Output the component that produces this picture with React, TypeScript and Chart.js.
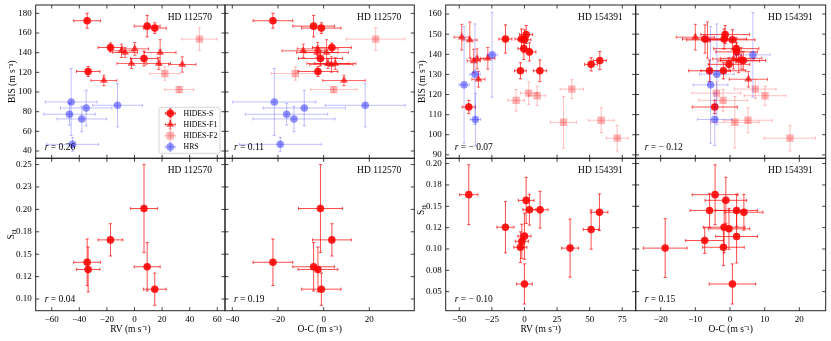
import React, { useEffect, useRef } from "react";
import { Chart, registerables } from "chart.js";

Chart.register(...registerables);

// ---------------- DATA : HD 112570 ----------------
const rv112S = [-34.3, 9.2, 14.7, -17.4, 6.9, -33.6];
const rv112SErr = [9.7, 9.4, 8.3, 8.9, 9.7, 8.5];
const oc112S = [-22.2, -4.4, -1.0, 3.6, -1.4, -2.5];
const oc112SErr = [8.7, 9.1, 8.6, 8.5, 9.6, 8.7];
const bis112S = [172.5, 167.0, 165.0, 145.3, 134.1, 120.9];
const bis112SErr = [7.6, 10.9, 5.4, 4.6, 7.5, 5.0];
const sh112S = [0.141, 0.136, 0.111, 0.166, 0.201, 0.133];
const sh112SErr = [0.026, 0.027, 0.018, 0.018, 0.049, 0.025];

const rv112F1 = [0.2, -9.4, -6.8, 18.6, -2.2, 17.6, 34.6, -22.2];
const rv112F1Err = [10.0, 8.5, 9.0, 11.5, 10.5, 8.5, 9.9, 9.4];
const oc112F1 = [-2.6, -8.9, -2.8, 1.3, 1.9, 5.1, 3.4, 8.9];
const oc112F1Err = [9.0, 9.3, 9.0, 9.5, 9.2, 9.0, 9.5, 9.3];
const bis112F1 = [143.9, 141.9, 140.2, 140.2, 129.0, 129.0, 128.0, 111.7];
const bis112F1Err = [6.5, 6.8, 5.0, 13.0, 5.0, 6.0, 7.8, 5.3];

const rv112F2 = [47.1, 22.0, 32.4];
const rv112F2Err = [12.7, 10.9, 10.5];
const oc112F2 = [22.8, -12.4, 4.4];
const oc112F2Err = [12.8, 10.5, 10.2];
const bis112F2 = [153.8, 118.8, 102.5];
const bis112F2Err = [11.4, 6.8, 3.0];

const rv112H = [-45.9, -35.0, -12.3, -47.1, -38.2, -44.9];
const rv112HErr = [18.7, 18.7, 18.0, 18.7, 18.0, 18.8];
const oc112H = [-21.6, -8.5, 18.2, -16.2, -13.0, -19.0];
const oc112HErr = [18.2, 18.0, 17.5, 18.0, 18.0, 18.0];
const bis112H = [89.9, 83.8, 86.5, 77.4, 72.6, 46.8];
const bis112HErr = [34, 18, 22, 11, 13, 7];

// ---------------- DATA : HD 154391 ----------------
const rv154S = [-14.6, -2.3, 1.3, 0.0, -0.5, 3.8, 57.8, 51.1, -3.1, 11.8, -42.7];
const rv154SErr = [5.0, 5.0, 5.0, 5.0, 4.5, 5.0, 5.0, 5.0, 4.5, 5.0, 5.0];
const oc154S = [-7.2, -1.7, -1.4, 0.7, 1.8, 1.9, 3.8, -0.3, -1.9, -5.9, -4.4];
const oc154SErr = [6.5, 6.5, 7.0, 6.5, 6.5, 6.0, 6.5, 6.0, 6.5, 6.0, 6.5];
const bis154S = [147.6, 147.6, 149.8, 147.2, 142.8, 141.2, 136.9, 135.0, 131.8, 131.8, 113.8];
const bis154SErr = [7.0, 5.0, 4.5, 5.0, 5.4, 4.5, 4.5, 3.3, 4.0, 5.4, 3.3];

const rv154F1 = [-48.1, -41.9, -38.9, -36.3, -28.1, -35.3];
const rv154F1Err = [5.8, 5.5, 5.0, 5.0, 5.5, 5.0];
const oc154F1 = [-10.0, -6.5, 2.5, 1.0, 3.2, 5.3];
const oc154F1Err = [5.5, 6.0, 6.0, 6.0, 6.0, 5.5];
const bis154F1 = [148.5, 147.1, 136.7, 137.7, 138.0, 127.6];
const bis154F1Err = [6.4, 9.0, 5.8, 5.0, 5.4, 3.9];

const rv154F2 = [-6.4, 3.3, 9.7, 36.3, 29.9, 58.8, 71.1];
const rv154F2Err = [6.4, 6.5, 6.5, 9.0, 10.0, 9.8, 8.3];
const oc154F2 = [-2.0, -3.9, 10.1, 7.3, 1.4, 5.2, 17.3];
const oc154F2Err = [7.0, 7.0, 6.0, 6.0, 7.0, 7.0, 7.4];
const bis154F2 = [117.1, 120.7, 119.4, 122.7, 106.2, 107.2, 98.3];
const bis154F2Err = [5.4, 5.6, 4.8, 4.7, 12.8, 6.2, 6.4];

const rv154H = [-24.8, -37.9, -46.3, -37.6];
const rv154HErr = [4.0, 4.0, 4.0, 4.0];
const oc154H = [6.6, -3.8, -5.6, -4.4];
const oc154HErr = [5.0, 5.0, 5.0, 5.0];
const bis154H = [139.7, 130.1, 124.8, 107.6];
const bis154HErr = [21, 25, 29, 13];

const shRv154 = [-42.7, 1.3, 3.8, 12.0, -14.6, 0.0, -2.0, -3.1, 0.0, 35.0, 51.1, 57.5];
const shRv154Err = [7.0, 6.0, 5.0, 6.0, 6.5, 5.0, 5.0, 5.0, 6.0, 6.5, 6.0, 6.5];
const shRvVal154 = [0.1636, 0.1569, 0.146, 0.146, 0.1255, 0.115, 0.109, 0.102, 0.059, 0.101, 0.1228, 0.143];
const shRvValErr154 = [0.035, 0.027, 0.018, 0.0215, 0.03, 0.027, 0.02, 0.018, 0.0235, 0.034, 0.023, 0.0215];

const shOc154 = [-4.3, -1.2, -5.9, 1.9, 4.0, -1.7, -0.3, 1.9, -7.3, -1.9, -18.7, 0.7];
const shOc154Err = [6.6, 6.0, 5.6, 6.0, 5.5, 6.0, 6.0, 6.0, 5.5, 6.0, 6.3, 6.7];
const shOcVal154 = [0.1636, 0.157, 0.1451, 0.1451, 0.143, 0.1255, 0.1236, 0.1146, 0.1099, 0.102, 0.101, 0.059];
const shOcValErr154 = [0.035, 0.027, 0.02, 0.019, 0.021, 0.03, 0.024, 0.031, 0.015, 0.0215, 0.0345, 0.0235];

// correlation coefficients printed in the panels
const r112 = [0.26, 0.11, 0.04, 0.19];
const r154 = [-0.07, -0.12, -0.1, 0.15];

// ticks
const rvTicks112 = [-60, -40, -20, 0, 20, 40, 60];
const ocTicks112 = [-40, -20, 0, 20];
const bisTicks112 = [40, 60, 80, 100, 120, 140, 160, 180];
const shTicks112 = [0.1, 0.125, 0.15, 0.175, 0.2, 0.225, 0.25];
const shLabels112 = ["0.10", "0.12", "0.15", "0.18", "0.20", "0.23", "0.25"];
const rvTicks154 = [-50, -25, 0, 25, 50, 75];
const ocTicks154 = [-20, -10, 0, 10, 20];
const bisTicks154 = [90, 100, 110, 120, 130, 140, 150, 160];
const shTicks154 = [0.05, 0.075, 0.1, 0.125, 0.15, 0.175, 0.2];
const shLabels154 = ["0.05", "0.08", "0.10", "0.12", "0.15", "0.18", "0.20"];

const instruments = ["HIDES-S", "HIDES-F1", "HIDES-F2", "HRS"];

// ---------------- STYLE ----------------
const SERIF = '"Liberation Serif", "Times New Roman", serif';
type Kind = "S" | "F1" | "F2" | "HRS";
const STYLE: Record<Kind, any> = {
  S: { shape: "circle", r: 3.8, fill: "rgba(255,0,0,0.88)", err: "rgba(255,0,0,0.7)", order: 4 },
  F1: { shape: "triangle", r: 4.6, fill: "rgba(255,0,0,0.68)", err: "rgba(255,0,0,0.6)", order: 3 },
  F2: { shape: "rect", r: 5.2, fill: "rgba(255,0,0,0.3)", err: "rgba(255,0,0,0.25)", order: 2 },
  HRS: { shape: "circle", r: 3.8, fill: "rgba(0,0,255,0.42)", err: "rgba(0,0,255,0.25)", order: 1 },
};

type Series = { kind: Kind; x: number[]; xe: number[]; y: number[]; ye: number[] };
type Axis = { min: number; max: number; ticks: number[]; labels?: string[]; title?: string; show: boolean };
type Panel = {
  area: { l: number; t: number; r: number; b: number };
  xAxis: Axis;
  yAxis: Axis;
  series: Series[];
  star: string;
  r: number;
  legend?: boolean;
  shTitleY?: number;
};

const COLS112 = [35.7, 225, 414.3];
const COLS154 = [445.7, 635.7, 825.7];
const ROWS = [5, 158.3, 310.7];
const YAXIS_W = 35.7;
const XAXIS_H = 341 - ROWS[2];

const BIS_T = "BIS (m s\u207B\u00B9)";
const rvAx112: Axis = { min: -71.6, max: 65.6, ticks: rvTicks112, title: "RV (m s\u207B\u00B9)", show: true };
const ocAx112: Axis = { min: -43.2, max: 39.7, ticks: ocTicks112, title: "O-C (m s\u207B\u00B9)", show: true };
const rvAx154: Axis = { min: -60.4, max: 85.3, ticks: rvTicks154, title: "RV (m s\u207B\u00B9)", show: true };
const ocAx154: Axis = { min: -27.2, max: 27.6, ticks: ocTicks154, title: "O-C (m s\u207B\u00B9)", show: true };
const bisAx112: Axis = { min: 32.6, max: 188.5, ticks: bisTicks112, title: BIS_T, show: true };
const bisAx154: Axis = { min: 88.3, max: 164.5, ticks: bisTicks154, title: BIS_T, show: true };
const shAx112: Axis = { min: 0.087, max: 0.257, ticks: shTicks112, labels: shLabels112, show: true };
const shAx154: Axis = { min: 0.0277, max: 0.2062, ticks: shTicks154, labels: shLabels154, show: true };
const hide = (a: Axis): Axis => ({ ...a, show: false });

const PANELS: Panel[] = [
  {
    area: { l: COLS112[0], r: COLS112[1], t: ROWS[0], b: ROWS[1] },
    xAxis: hide(rvAx112), yAxis: bisAx112, star: "HD 112570", r: r112[0], legend: true,
    series: [
      { kind: "S", x: rv112S, xe: rv112SErr, y: bis112S, ye: bis112SErr },
      { kind: "F1", x: rv112F1, xe: rv112F1Err, y: bis112F1, ye: bis112F1Err },
      { kind: "F2", x: rv112F2, xe: rv112F2Err, y: bis112F2, ye: bis112F2Err },
      { kind: "HRS", x: rv112H, xe: rv112HErr, y: bis112H, ye: bis112HErr },
    ],
  },
  {
    area: { l: COLS112[1], r: COLS112[2], t: ROWS[0], b: ROWS[1] },
    xAxis: hide(ocAx112), yAxis: hide(bisAx112), star: "HD 112570", r: r112[1],
    series: [
      { kind: "S", x: oc112S, xe: oc112SErr, y: bis112S, ye: bis112SErr },
      { kind: "F1", x: oc112F1, xe: oc112F1Err, y: bis112F1, ye: bis112F1Err },
      { kind: "F2", x: oc112F2, xe: oc112F2Err, y: bis112F2, ye: bis112F2Err },
      { kind: "HRS", x: oc112H, xe: oc112HErr, y: bis112H, ye: bis112HErr },
    ],
  },
  {
    area: { l: COLS112[0], r: COLS112[1], t: ROWS[1], b: ROWS[2] },
    xAxis: rvAx112, yAxis: shAx112, star: "HD 112570", r: r112[2], shTitleY: 234.5,
    series: [{ kind: "S", x: rv112S, xe: rv112SErr, y: sh112S, ye: sh112SErr }],
  },
  {
    area: { l: COLS112[1], r: COLS112[2], t: ROWS[1], b: ROWS[2] },
    xAxis: ocAx112, yAxis: hide(shAx112), star: "HD 112570", r: r112[3],
    series: [{ kind: "S", x: oc112S, xe: oc112SErr, y: sh112S, ye: sh112SErr }],
  },
  {
    area: { l: COLS154[0], r: COLS154[1], t: ROWS[0], b: ROWS[1] },
    xAxis: hide(rvAx154), yAxis: bisAx154, star: "HD 154391", r: r154[0],
    series: [
      { kind: "S", x: rv154S, xe: rv154SErr, y: bis154S, ye: bis154SErr },
      { kind: "F1", x: rv154F1, xe: rv154F1Err, y: bis154F1, ye: bis154F1Err },
      { kind: "F2", x: rv154F2, xe: rv154F2Err, y: bis154F2, ye: bis154F2Err },
      { kind: "HRS", x: rv154H, xe: rv154HErr, y: bis154H, ye: bis154HErr },
    ],
  },
  {
    area: { l: COLS154[1], r: COLS154[2], t: ROWS[0], b: ROWS[1] },
    xAxis: hide(ocAx154), yAxis: hide(bisAx154), star: "HD 154391", r: r154[1],
    series: [
      { kind: "S", x: oc154S, xe: oc154SErr, y: bis154S, ye: bis154SErr },
      { kind: "F1", x: oc154F1, xe: oc154F1Err, y: bis154F1, ye: bis154F1Err },
      { kind: "F2", x: oc154F2, xe: oc154F2Err, y: bis154F2, ye: bis154F2Err },
      { kind: "HRS", x: oc154H, xe: oc154HErr, y: bis154H, ye: bis154HErr },
    ],
  },
  {
    area: { l: COLS154[0], r: COLS154[1], t: ROWS[1], b: ROWS[2] },
    xAxis: rvAx154, yAxis: shAx154, star: "HD 154391", r: r154[2], shTitleY: 210,
    series: [{ kind: "S", x: shRv154, xe: shRv154Err, y: shRvVal154, ye: shRvValErr154 }],
  },
  {
    area: { l: COLS154[1], r: COLS154[2], t: ROWS[1], b: ROWS[2] },
    xAxis: ocAx154, yAxis: hide(shAx154), star: "HD 154391", r: r154[3],
    series: [{ kind: "S", x: shOc154, xe: shOc154Err, y: shOcVal154, ye: shOcValErr154 }],
  },
];

const fmtNum = (v: number) => (v < 0 ? "\u2212" + Math.abs(v) : String(v));

function drawMarker(ctx: CanvasRenderingContext2D, kind: Kind, x: number, y: number) {
  const st = STYLE[kind];
  ctx.fillStyle = st.fill;
  ctx.beginPath();
  if (st.shape === "circle") {
    ctx.arc(x, y, st.r, 0, Math.PI * 2);
  } else if (st.shape === "triangle") {
    const r = st.r;
    ctx.moveTo(x, y - r);
    ctx.lineTo(x + r * Math.sin((2 * Math.PI) / 3), y - r * Math.cos((2 * Math.PI) / 3));
    ctx.lineTo(x + r * Math.sin((4 * Math.PI) / 3), y - r * Math.cos((4 * Math.PI) / 3));
    ctx.closePath();
  } else {
    const h = st.r * Math.SQRT1_2;
    ctx.rect(x - h, y - h, 2 * h, 2 * h);
  }
  ctx.fill();
}

function crossBar(ctx: CanvasRenderingContext2D, x0: number, x1: number, y0: number, y1: number, x: number, y: number, cap: number) {
  ctx.moveTo(x0, y); ctx.lineTo(x1, y);
  ctx.moveTo(x, y0); ctx.lineTo(x, y1);
  ctx.moveTo(x0, y - cap); ctx.lineTo(x0, y + cap);
  ctx.moveTo(x1, y - cap); ctx.lineTo(x1, y + cap);
  ctx.moveTo(x - cap, y0); ctx.lineTo(x + cap, y0);
  ctx.moveTo(x - cap, y1); ctx.lineTo(x + cap, y1);
}

const errorBarPlugin = {
  id: "errorBars",
  beforeDatasetDraw(chart: any, args: any) {
    const ds = chart.data.datasets[args.index];
    const xs = chart.scales.x, ys = chart.scales.y;
    const ctx: CanvasRenderingContext2D = chart.ctx;
    const ca = chart.chartArea;
    ctx.save();
    ctx.beginPath();
    ctx.rect(ca.left, ca.top, ca.right - ca.left, ca.bottom - ca.top);
    ctx.clip();
    ctx.strokeStyle = ds.errColor;
    ctx.lineWidth = 1;
    ctx.beginPath();
    ds.data.forEach((p: any) => {
      crossBar(
        ctx,
        xs.getPixelForValue(p.x - p.xe), xs.getPixelForValue(p.x + p.xe),
        ys.getPixelForValue(p.y - p.ye), ys.getPixelForValue(p.y + p.ye),
        xs.getPixelForValue(p.x), ys.getPixelForValue(p.y), 1.6
      );
    });
    ctx.stroke();
    ctx.restore();
  },
};

function decoPlugin(p: Panel) {
  return {
    id: "deco",
    afterDraw(chart: any) {
      const ctx: CanvasRenderingContext2D = chart.ctx;
      const ca = chart.chartArea;
      const xs = chart.scales.x, ys = chart.scales.y;
      const TL = 3.5;
      ctx.save();
      ctx.strokeStyle = "#111";
      ctx.lineWidth = 0.8;
      ctx.beginPath();
      xs.ticks.forEach((t: any) => {
        const px = xs.getPixelForValue(t.value);
        ctx.moveTo(px, ca.bottom); ctx.lineTo(px, ca.bottom - TL);
        ctx.moveTo(px, ca.top); ctx.lineTo(px, ca.top + TL);
      });
      ys.ticks.forEach((t: any) => {
        const py = ys.getPixelForValue(t.value);
        ctx.moveTo(ca.left, py); ctx.lineTo(ca.left + TL, py);
        ctx.moveTo(ca.right, py); ctx.lineTo(ca.right - TL, py);
      });
      ctx.stroke();
      ctx.lineWidth = 1;
      ctx.strokeStyle = "#222";
      ctx.strokeRect(ca.left, ca.top, ca.right - ca.left, ca.bottom - ca.top);

      // star name
      ctx.fillStyle = "#000";
      ctx.font = `9.5px ${SERIF}`;
      ctx.textAlign = "right";
      ctx.textBaseline = "middle";
      ctx.fillText(p.star, ca.right - 13, ca.top + 12);

      // correlation coefficient
      ctx.textAlign = "left";
      const rx = ca.left + 9, ry = ca.bottom - 11;
      ctx.font = `italic 9.5px ${SERIF}`;
      ctx.fillText("r", rx, ry);
      const rw = ctx.measureText("r").width;
      ctx.font = `9.5px ${SERIF}`;
      const rs = p.r < 0 ? "\u2212 " + Math.abs(p.r).toFixed(2) : p.r.toFixed(2);
      ctx.fillText(" = " + rs, rx + rw, ry);

      // S_H axis title
      if (p.shTitleY !== undefined) {
        ctx.save();
        ctx.translate(ca.left - 24, p.shTitleY);
        ctx.rotate(-Math.PI / 2);
        ctx.font = `9.5px ${SERIF}`;
        const sw = ctx.measureText("S").width;
        ctx.font = `6.5px ${SERIF}`;
        const hw = ctx.measureText("H").width;
        const x0 = -(sw + hw) / 2;
        ctx.textAlign = "left";
        ctx.textBaseline = "middle";
        ctx.font = `9.5px ${SERIF}`;
        ctx.fillText("S", x0, 0);
        ctx.font = `6.5px ${SERIF}`;
        ctx.fillText("H", x0 + sw, 2.5);
        ctx.restore();
      }

      // legend
      if (p.legend) {
        const bw = 61, bh = 46;
        const bx = ca.right - 5 - bw, by = ca.bottom - 5 - bh;
        ctx.beginPath();
        const rr = 2;
        ctx.moveTo(bx + rr, by);
        ctx.arcTo(bx + bw, by, bx + bw, by + bh, rr);
        ctx.arcTo(bx + bw, by + bh, bx, by + bh, rr);
        ctx.arcTo(bx, by + bh, bx, by, rr);
        ctx.arcTo(bx, by, bx + bw, by, rr);
        ctx.closePath();
        ctx.fillStyle = "rgba(255,255,255,0.8)";
        ctx.fill();
        ctx.strokeStyle = "#cccccc";
        ctx.lineWidth = 0.8;
        ctx.stroke();
        const kinds: Kind[] = ["S", "F1", "F2", "HRS"];
        kinds.forEach((k, i) => {
          const mx = bx + 11.3, my = by + 6 + i * 11.2;
          ctx.strokeStyle = STYLE[k].err;
          ctx.lineWidth = 1;
          ctx.beginPath();
          crossBar(ctx, mx - 5, mx + 5, my - 4.5, my + 4.5, mx, my, 1.4);
          ctx.stroke();
          drawMarker(ctx, k, mx, my);
          ctx.fillStyle = "#000";
          ctx.font = `7.8px ${SERIF}`;
          ctx.textAlign = "left";
          ctx.textBaseline = "middle";
          ctx.fillText(instruments[i], bx + 24.5, my + 0.5);
        });
      }
      ctx.restore();
    },
  };
}

function axisOptions(a: Axis, horizontal: boolean) {
  return {
    type: "linear",
    position: horizontal ? "bottom" : "left",
    min: a.min,
    max: a.max,
    bounds: "data",
    afterBuildTicks: (s: any) => {
      s.ticks = a.ticks.map((v) => ({ value: v }));
    },
    afterFit: (s: any) => {
      if (horizontal) s.height = a.show ? XAXIS_H : 0;
      else s.width = a.show ? YAXIS_W : 0;
      s.paddingLeft = 0; s.paddingRight = 0; s.paddingTop = 0; s.paddingBottom = 0;
    },
    grid: { display: false, drawTicks: false },
    border: { display: false },
    ticks: {
      display: a.show,
      autoSkip: false,
      maxRotation: 0,
      minRotation: 0,
      padding: horizontal ? 3.2 : 4,
      color: "#000",
      font: { family: SERIF, size: 9 },
      callback: (v: number, i: number) => (a.labels ? a.labels[i] : fmtNum(v)),
    },
    title: {
      display: a.show && !!a.title,
      text: a.title || "",
      color: "#000",
      font: { family: SERIF, size: 9.5 },
      padding: horizontal ? { top: 0, bottom: 6 } : { top: 6.3, bottom: 0 },
    },
  };
}

function buildConfig(p: Panel): any {
  const { l, t, r, b } = p.area;
  return {
    type: "scatter",
    data: {
      datasets: p.series.map((s) => {
        const st = STYLE[s.kind];
        return {
          label: s.kind,
          data: s.x.map((xv, i) => ({ x: xv, y: s.y[i], xe: s.xe[i], ye: s.ye[i] })),
          pointStyle: st.shape,
          pointRadius: st.r,
          pointHoverRadius: st.r,
          backgroundColor: st.fill,
          borderColor: st.fill,
          borderWidth: 0,
          errColor: st.err,
          order: st.order,
          clip: 0,
        };
      }),
    },
    options: {
      responsive: false,
      maintainAspectRatio: false,
      animation: false,
      events: [],
      layout: {
        autoPadding: false,
        padding: {
          left: l - (p.yAxis.show ? YAXIS_W : 0),
          right: 831 - r,
          top: t,
          bottom: 341 - b - (p.xAxis.show ? XAXIS_H : 0),
        },
      },
      plugins: { legend: { display: false }, tooltip: { enabled: false } },
      scales: { x: axisOptions(p.xAxis, true), y: axisOptions(p.yAxis, false) },
    },
    plugins: [errorBarPlugin, decoPlugin(p)],
  };
}

export default function App() {
  const refs = useRef<(HTMLCanvasElement | null)[]>([]);
  useEffect(() => {
    const charts = PANELS.map((p, i) => new Chart(refs.current[i] as HTMLCanvasElement, buildConfig(p)));
    return () => charts.forEach((c) => c.destroy());
  }, []);
  return (
    <div style={{ position: "absolute", left: 0, top: 0, width: 831, height: 341, background: "#fff" }}>
      {PANELS.map((_, i) => (
        <canvas
          key={i}
          ref={(el) => {
            refs.current[i] = el;
          }}
          width={831}
          height={341}
          style={{ position: "absolute", left: 0, top: 0 }}
        />
      ))}
    </div>
  );
}
